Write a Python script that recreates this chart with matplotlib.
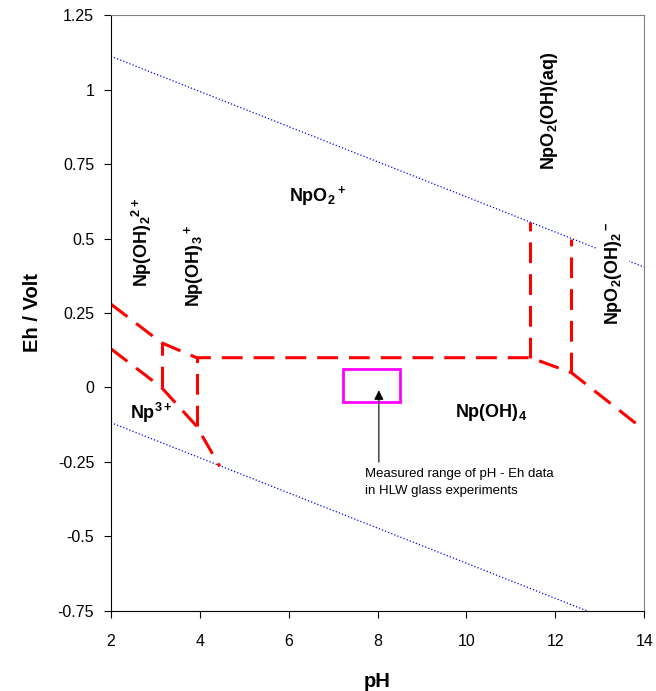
import matplotlib
matplotlib.use("Agg")
import matplotlib.pyplot as plt
from matplotlib.patches import Rectangle

plt.rcParams['font.family'] = ['Liberation Sans', 'DejaVu Sans']
plt.rcParams['mathtext.fontset'] = 'custom'
plt.rcParams['mathtext.rm'] = 'Liberation Sans'
plt.rcParams['mathtext.bf'] = 'Liberation Sans:bold'

# water stability lines
water_up_ph = [2, 14]
water_up_eh = [1.112, 0.404]
water_lo_ph = [2, 12.71]
water_lo_eh = [-0.118, -0.75]

# Np boundaries (dashed red)
upper_ph = [2.0, 3.14, 3.93, 11.44, 12.36, 13.85]
upper_eh = [0.28, 0.15, 0.10, 0.10, 0.05, -0.125]
lower_ph = [2.0, 3.14, 3.93, 4.45]
lower_eh = [0.13, 0.0, -0.13, -0.265]
vert_ph = [3.14, 3.93, 11.44, 12.36]
vert_lo = [0.0, -0.13, 0.10, 0.05]
vert_hi = [0.15, 0.10, 0.555, 0.50]

# measured range box
meas_ph = [7.22, 8.50]
meas_eh = [-0.048, 0.062]

xticks = [2, 4, 6, 8, 10, 12, 14]
yticks = [-0.75, -0.5, -0.25, 0, 0.25, 0.5, 0.75, 1, 1.25]
ytick_labels = ['-0.75', '-0.5', '-0.25', '0', '0.25', '0.5', '0.75', '1', '1.25']

fig = plt.figure(figsize=(6.56, 6.91), dpi=100)
ax = fig.add_axes([0.169, 0.116, 0.813, 0.862])

dash = (6.8, 3.6)
ax.plot(water_up_ph, water_up_eh, color='blue', lw=0.9, ls=':')
ax.plot(water_lo_ph, water_lo_eh, color='blue', lw=0.9, ls=':')
ax.plot(upper_ph, upper_eh, color='red', lw=2.2, dashes=dash)
ax.plot(lower_ph, lower_eh, color='red', lw=2.2, dashes=dash)
for p, lo, hi in zip(vert_ph, vert_lo, vert_hi):
    ax.plot([p, p], [lo, hi], color='red', lw=2.2, dashes=dash)

ax.add_patch(Rectangle((meas_ph[0], meas_eh[0]), meas_ph[1] - meas_ph[0], meas_eh[1] - meas_eh[0],
                       fill=False, edgecolor='#FF00FF', lw=2))
ax.annotate('', xy=(8.03, 0.0), xytext=(8.03, -0.26),
            arrowprops=dict(arrowstyle='-|>', color='black', lw=0.8, mutation_scale=14))
ax.text(7.72, -0.27, 'Measured range of pH - Eh data\nin HLW glass experiments',
        fontsize=9.5, va='top', ha='left', linespacing=1.6)

fs = 13
ax.text(6.66, 0.643, r'$\mathbf{NpO_2{}^+}$', fontsize=fs, ha='center', va='center')
ax.text(2.7, 0.488, r'$\mathbf{Np(OH)_2{}^{2+}}$', fontsize=fs, ha='center', va='center', rotation=90)
ax.text(3.87, 0.408, r'$\mathbf{Np(OH)_3{}^+}$', fontsize=fs, ha='center', va='center', rotation=90)
ax.text(2.92, -0.086, r'$\mathbf{Np^{3+}}$', fontsize=fs, ha='center', va='center')
ax.text(10.55, -0.083, r'$\mathbf{Np(OH)_4}$', fontsize=fs, ha='center', va='center')
ax.text(11.88, 0.93, r'$\mathbf{NpO_2(OH)(aq)}$', fontsize=fs, ha='center', va='center', rotation=90)
ax.text(13.3, 0.384, r'$\mathbf{NpO_2(OH)_2{}^-}$', fontsize=fs, ha='center', va='center', rotation=90,
        bbox=dict(facecolor='white', edgecolor='none', pad=4))

ax.set_xlim(2, 14)
ax.set_ylim(-0.75, 1.25)
ax.set_xticks(xticks)
ax.set_yticks(yticks)
ax.set_yticklabels(ytick_labels)
ax.tick_params(axis='both', direction='out', length=5, width=0.8, labelsize=11.5)
ax.tick_params(axis='y', pad=7)
ax.tick_params(axis='x', pad=12)
for s in ['top', 'right']:
    ax.spines[s].set_color('#808080')
ax.spines['left'].set_color('black')
ax.spines['bottom'].set_color('black')

ax.set_xlabel('pH', fontsize=14.5, fontweight='bold', labelpad=16)
ax.set_ylabel('Eh / Volt', fontsize=14.5, fontweight='bold', labelpad=11)

fig.savefig('out.png', dpi=100)
